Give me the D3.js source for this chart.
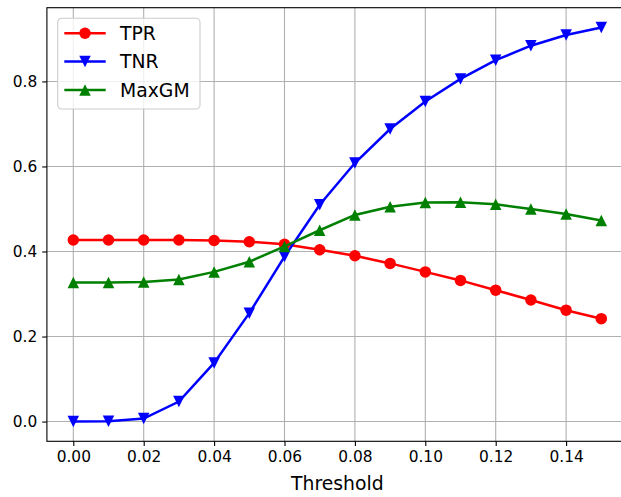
<!DOCTYPE html>
<html>
<head>
<meta charset="utf-8">
<script src="https://cdn.jsdelivr.net/npm/d3@7"></script>
<style>
  html, body { margin: 0; padding: 0; background: #fff; }
  svg { display: block; font-family: "DejaVu Sans", sans-serif; }
</style>
</head>
<body>
<div id="chart"></div>
<script>
"use strict";
const thresholds = [0.00, 0.01, 0.02, 0.03, 0.04, 0.05, 0.06, 0.07, 0.08, 0.09, 0.10, 0.11, 0.12, 0.13, 0.14, 0.15];
const tpr = [0.427, 0.427, 0.427, 0.427, 0.426, 0.423, 0.417, 0.404, 0.390, 0.372, 0.352, 0.332, 0.309, 0.286, 0.262, 0.242];
const tnr = [0.000, 0.001, 0.007, 0.047, 0.138, 0.255, 0.388, 0.510, 0.608, 0.688, 0.753, 0.806, 0.850, 0.884, 0.909, 0.927];
const maxgm = [0.327, 0.327, 0.328, 0.334, 0.352, 0.376, 0.412, 0.450, 0.486, 0.505, 0.515, 0.516, 0.511, 0.500, 0.488, 0.473];
const xTicks = [0.00, 0.02, 0.04, 0.06, 0.08, 0.10, 0.12, 0.14];
const yTicks = [0.0, 0.2, 0.4, 0.6, 0.8];

const series = [
  { name: "TPR", values: tpr, color: "#ff0000", marker: "circle" },
  { name: "TNR", values: tnr, color: "#0000ff", marker: "down" },
  { name: "MaxGM", values: maxgm, color: "#008000", marker: "up" }
];

const width = 621, height = 497;
const margin = { top: 7.7, left: 46.9 };
const plotW = 580.8, plotH = 433.6;

const svg = d3.select("#chart").append("svg")
    .attr("width", width)
    .attr("height", height);

const x = d3.scaleLinear().domain([-0.0075, 0.1575]).range([margin.left, margin.left + plotW]);
const y = d3.scaleLinear().domain([-0.0464, 0.9734]).range([margin.top + plotH, margin.top]);

// grid
const grid = svg.append("g").attr("stroke", "#b0b0b0").attr("stroke-width", 1.1);
grid.selectAll("line.vx").data(xTicks).enter().append("line")
    .attr("x1", d => x(d)).attr("x2", d => x(d))
    .attr("y1", margin.top).attr("y2", margin.top + plotH);
grid.selectAll("line.hy").data(yTicks).enter().append("line")
    .attr("x1", margin.left).attr("x2", margin.left + plotW)
    .attr("y1", d => y(d)).attr("y2", d => y(d));

// axes
const xAxis = d3.axisBottom(x).tickValues(xTicks).tickFormat(d3.format(".2f")).tickSize(4.7).tickPadding(5);
const yAxis = d3.axisLeft(y).tickValues(yTicks).tickFormat(d3.format(".1f")).tickSize(4.7).tickPadding(5);

const gx = svg.append("g").attr("transform", `translate(0,${margin.top + plotH})`).call(xAxis);
const gy = svg.append("g").attr("transform", `translate(${margin.left},0)`).call(yAxis);
[gx, gy].forEach(g => {
  g.select(".domain").remove();
  g.selectAll(".tick line").attr("stroke", "#000").attr("stroke-width", 1.1);
  g.selectAll(".tick text").attr("fill", "#000").style("font-size", "15.4px").style("font-family", "DejaVu Sans");
});

// spines
svg.append("rect")
    .attr("x", margin.left).attr("y", margin.top)
    .attr("width", plotW).attr("height", plotH)
    .attr("fill", "none").attr("stroke", "#000").attr("stroke-width", 1.1);

svg.append("text")
    .attr("x", margin.left + plotW / 2)
    .attr("y", 490)
    .attr("text-anchor", "middle")
    .style("font-size", "18.8px")
    .text("Threshold");

const ms = 11.5;
function markerPath(type, s) {
  const h = s / 2;
  if (type === "down") return `M0,${h}L${-h},${-h}L${h},${-h}Z`;
  if (type === "up") return `M0,${-h}L${-h},${h}L${h},${h}Z`;
  return null;
}
function drawMarker(g, type, color) {
  if (type === "circle") {
    g.append("circle").attr("r", ms / 2).attr("fill", color);
  } else {
    g.append("path").attr("d", markerPath(type, ms)).attr("fill", color);
  }
}

const line = d3.line().x((d, i) => x(thresholds[i])).y(d => y(d));

series.forEach(s => {
  svg.append("path")
      .datum(s.values)
      .attr("fill", "none")
      .attr("stroke", s.color)
      .attr("stroke-width", 2.5)
      .attr("d", line);
  svg.append("g").selectAll("g")
      .data(s.values)
      .enter()
      .append("g")
      .attr("transform", (d, i) => `translate(${x(thresholds[i])},${y(d)})`)
      .each(function() { drawMarker(d3.select(this), s.marker, s.color); });
});

// legend
const legend = svg.append("g").attr("transform", "translate(57.7,18.3)");
legend.append("rect")
    .attr("width", 142.3).attr("height", 90.7)
    .attr("rx", 4).attr("ry", 4)
    .attr("fill", "#fff").attr("fill-opacity", 0.8)
    .attr("stroke", "#cccccc").attr("stroke-width", 1.1);
const item = legend.selectAll("g.item")
    .data(series)
    .enter()
    .append("g")
    .attr("transform", (d, i) => `translate(0,${15 + i * 28.3})`);
item.append("line")
    .attr("x1", 6.6).attr("x2", 48)
    .attr("stroke", d => d.color).attr("stroke-width", 2.5);
item.append("g")
    .attr("transform", "translate(27.3,0)")
    .each(function(d) { drawMarker(d3.select(this), d.marker, d.color); });
item.append("text")
    .attr("x", 62.3)
    .attr("y", 6.8)
    .style("font-size", "18.8px")
    .text(d => d.name);
</script>
</body>
</html>
